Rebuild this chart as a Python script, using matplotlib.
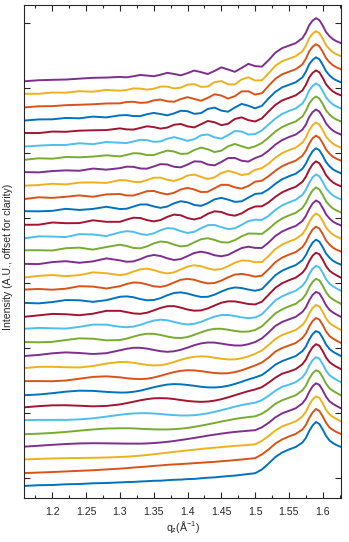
import matplotlib
matplotlib.use("Agg")
import matplotlib.pyplot as plt
import numpy as np

plt.rcParams['font.family'] = ['Liberation Sans', 'DejaVu Sans']
plt.rcParams['mathtext.fontset'] = 'custom'
plt.rcParams['mathtext.rm'] = 'Liberation Sans'

# q_z grid (1/Angstrom)
q = [1.157, 1.18, 1.20, 1.22, 1.24, 1.26, 1.28,
     1.30, 1.31, 1.32, 1.33, 1.34, 1.35, 1.36, 1.37, 1.38, 1.39, 1.40,
     1.41, 1.42, 1.43, 1.44, 1.45, 1.46, 1.47, 1.48, 1.49, 1.50,
     1.51, 1.52, 1.53, 1.54, 1.55, 1.56, 1.57, 1.575, 1.58, 1.585,
     1.59, 1.595, 1.60, 1.605, 1.61, 1.615, 1.62, 1.627]

# intensities (A.U.) of each scan, bottom to top, before offsetting
curve_00 = [0, 0.8, 1.0, 1.7, 2.0, 2.7, 3.0, 3.6, 3.9, 4.1, 4.5, 4.8, 5.2, 5.3, 5.8, 6.2, 6.4, 6.9, 7.1, 7.7, 8.3, 8.6, 9.3, 9.9, 10.4, 11.2, 12.0, 12.8,
            16.5, 22.5, 29, 33.5, 36.5, 39, 43.5, 48, 55, 60.5, 64, 62, 56.5, 50, 45.5, 43, 41, 39]
curve_01 = [-0.2, 0.4, 0.9, 1.5, 2.1, 2.7, 3.5, 4.3, 4.8, 5.4, 5.9, 6.4, 7.0, 7.5, 8.1, 8.5, 8.9, 9.3, 9.8, 10.2, 10.7, 11.1, 11.7, 12.2, 12.8, 13.4, 14.1, 14.8,
            18.5, 23.5, 29.5, 33.5, 36.5, 39, 43.5, 48, 55, 60.5, 64, 62, 56.5, 50, 45.5, 43, 41, 39]
curve_02 = [0.4, 1.0, 1.4, 1.7, 1.9, 2.1, 2.4, 2.9, 3.2, 3.7, 4.2, 4.9, 5.6, 6.4, 7.2, 8.0, 8.7, 9.5, 10.2, 10.9, 11.6, 12.2, 12.8, 13.4, 14.0, 14.4, 15.0, 15.5,
            19, 24, 29.5, 33.5, 36, 38.5, 43.5, 48, 55, 60.5, 63.5, 62, 56.5, 50, 45.5, 43, 41, 38.5]
curve_03 = [0.1, 1.1, 2.0, 2.8, 3.4, 3.6, 3.5, 3.3, 3.2, 3.2, 3.2, 3.4, 3.8, 4.3, 5.0, 5.8, 6.8, 7.8, 8.9, 10.0, 11.2, 12.2, 13.2, 14.1, 14.9, 15.5, 16.1, 16.6,
            19.5, 24, 29.5, 33.5, 36, 38.5, 43.5, 48, 55, 60.5, 63.5, 62, 56.5, 50, 45.5, 43, 41, 38.5]
curve_04 = [-0.5, 0.1, 0.8, 1.8, 3.1, 4.3, 5.2, 5.5, 5.5, 5.4, 5.0, 4.7, 4.4, 4.3, 4.3, 4.6, 5.1, 5.8, 6.9, 8.1, 9.4, 10.8, 12.2, 13.5, 14.8, 15.8, 16.7, 17.4,
            20, 24.5, 30, 33.5, 36, 38.5, 43.5, 48, 55, 60.5, 63.5, 62, 56.5, 50, 45.5, 43, 41, 38.5]
curve_05 = [0.5, 0.8, 0.8, 0.8, 1.3, 2.4, 4.1, 5.9, 6.7, 7.3, 7.5, 7.5, 7.2, 6.7, 6.1, 5.6, 5.2, 5.2, 5.5, 6.3, 7.4, 8.8, 10.5, 12.2, 14.0, 15.6, 16.9, 18.0,
            20.5, 25, 30, 34, 36, 38.5, 43.5, 48, 55, 60.5, 63.5, 62, 56.5, 50, 45.5, 43, 41, 38.5]
curve_06 = [0.2, 1.5, 2.3, 2.4, 1.9, 1.3, 1.7, 3.2, 4.5, 5.9, 7.3, 8.5, 9.3, 9.5, 9.3, 8.6, 7.6, 6.7, 6.1, 5.8, 6.1, 7.0, 8.4, 10.3, 12.4, 14.5, 16.5, 18.2,
            20.5, 25, 30, 34, 36, 38.5, 43.5, 48, 55, 60.5, 63.5, 62, 56.5, 50, 45.5, 43, 41, 38.5]
curve_07 = [-0.7, 0.1, 1.4, 2.9, 3.9, 3.7, 2.7, 2.0, 2.1, 2.8, 3.9, 5.6, 7.3, 8.8, 10.0, 10.5, 10.3, 9.6, 8.8, 7.8, 7.2, 7.1, 7.6, 8.8, 10.6, 12.8, 15.1, 17.2,
            19.5, 24.5, 30, 33.5, 36, 38.5, 43.5, 48, 55, 60.5, 63.5, 62, 56.5, 50, 45.5, 43, 41, 38.5]
curve_08 = [0.4, 0.4, 0.3, 1.0, 2.8, 4.6, 5.2, 4.2, 3.3, 2.7, 2.4, 2.8, 4.0, 5.7, 7.7, 9.4, 10.7, 11.3, 11.1, 10.4, 9.4, 8.5, 8.1, 8.3, 9.4, 11.2, 13.6, 16.1,
            19, 24, 30, 33.5, 36, 38.5, 43.5, 48, 55, 60.5, 63.5, 62, 56.5, 50, 45.5, 43, 41, 38.5]
curve_09 = [0.3, 1.6, 1.7, 1.2, 1.0, 2.4, 4.9, 6.5, 6.4, 5.7, 4.6, 3.5, 3.0, 3.3, 4.5, 6.5, 8.6, 10.5, 11.7, 12.1, 11.8, 10.7, 9.7, 9.0, 9.1, 10.2, 12.1, 14.7,
            18, 23.5, 29.5, 33.5, 36, 38.5, 43.5, 48, 55, 60.5, 63.5, 62, 56.5, 50, 45.5, 43, 41, 38.5]
curve_10 = [-0.7, 0.5, 2.1, 3.0, 2.4, 1.4, 2.2, 5.1, 6.6, 7.6, 7.6, 6.8, 5.5, 4.2, 3.6, 4.1, 5.6, 7.8, 10.2, 12.0, 12.9, 12.8, 11.8, 10.7, 9.9, 9.9, 11.2, 13.4,
            17, 23, 29.5, 33.5, 36, 38.5, 43.5, 48, 55, 60.5, 63.5, 62, 56.5, 50, 45.5, 43, 41, 38.5]
curve_11 = [0.4, 0.0, 0.5, 2.3, 4.0, 3.6, 2.0, 2.3, 3.7, 5.7, 7.5, 8.6, 8.5, 7.4, 5.8, 4.6, 4.3, 5.3, 7.5, 10.0, 12.3, 13.5, 13.6, 12.6, 11.4, 10.6, 10.8, 12.3,
            16, 22.5, 29, 33, 36, 38.5, 43.5, 48, 55, 60.5, 63.5, 62, 56.5, 50, 45.5, 43, 41, 38.5]
curve_12 = [0.4, 1.4, 1.0, 0.7, 2.4, 4.7, 4.6, 2.5, 2.0, 2.7, 4.4, 6.7, 8.7, 9.6, 9.0, 7.4, 5.7, 4.8, 5.5, 7.4, 10.2, 12.7, 14.2, 14.3, 13.3, 11.9, 11.2, 11.8,
            15, 22, 29, 33, 36, 38.5, 43.5, 48, 55, 60.5, 63.5, 62, 56.5, 50, 45.5, 43, 41, 38.5]
curve_13 = [-0.7, 0.9, 2.3, 2.0, 1.0, 2.5, 5.4, 5.4, 4.1, 2.8, 2.4, 3.5, 5.8, 8.3, 10.0, 10.1, 8.6, 6.7, 5.5, 5.8, 7.8, 10.7, 13.5, 14.9, 14.8, 13.6, 12.2, 11.8,
            14.5, 21.5, 28.5, 33, 36, 38.5, 43.5, 48, 55, 60.5, 63.5, 62, 56.5, 50, 45.5, 43, 41, 38.5]
curve_14 = [0.3, -0.2, 1.1, 3.1, 2.9, 1.3, 3.0, 6.4, 6.8, 5.9, 4.1, 2.9, 3.1, 5.0, 7.9, 10.2, 10.8, 9.6, 7.7, 6.2, 6.4, 8.5, 11.6, 14.3, 15.7, 15.1, 13.6, 12.4,
            14, 21, 28, 32.5, 35.5, 38, 43, 48, 55, 60.5, 63.5, 61.5, 56, 49.5, 45.5, 42.5, 40.5, 38.5]
curve_15 = [0.5, 1.1, 0.4, 1.4, 3.9, 3.5, 1.6, 3.9, 6.1, 7.6, 7.3, 5.7, 3.8, 3.2, 4.7, 7.6, 10.3, 11.3, 10.3, 8.2, 6.7, 7.1, 9.5, 12.8, 15.5, 16.2, 15.1, 13.4,
            14.5, 21, 28, 32.5, 35.5, 38, 43, 48, 55, 60.5, 63.5, 61.5, 56, 49.5, 45.5, 42.5, 40.5, 38.5]
curve_16 = [-0.7, 1.2, 2.0, 0.9, 1.9, 4.7, 3.8, 1.9, 3.0, 5.5, 7.7, 8.4, 7.0, 4.8, 3.6, 4.7, 7.6, 10.5, 11.8, 10.8, 8.6, 7.2, 8.0, 10.8, 14.3, 16.5, 16.4, 14.8,
            15, 21, 28, 32.5, 35.5, 38, 43, 48, 55, 60.5, 63.5, 61.5, 56, 49.5, 45.5, 42.5, 40.5, 38.5]
curve_17 = [0.1, -0.1, 1.9, 2.8, 1.2, 2.6, 5.6, 3.6, 2.2, 2.6, 4.8, 7.6, 9.0, 8.0, 5.7, 4.0, 4.9, 7.9, 11.0, 12.3, 11.0, 8.7, 7.7, 9.1, 12.6, 15.9, 17.3, 16.1,
            16, 21.5, 28, 32.5, 35.5, 38, 43, 48, 55, 60.5, 63.5, 61.5, 56, 49.5, 45.5, 42.5, 40.5, 38.5]
curve_18 = [0.6, 0.7, 0.4, 2.7, 3.3, 1.3, 3.9, 6.2, 4.9, 3.0, 2.6, 4.5, 7.5, 9.4, 8.7, 6.3, 4.5, 5.3, 8.6, 11.7, 12.7, 11.0, 8.7, 8.4, 10.8, 14.6, 17.4, 17.3,
            17, 22, 28, 32.5, 35.5, 38, 43, 48, 55, 60.5, 63.5, 61.5, 56, 49.5, 45.5, 42.5, 40.5, 38.5]
curve_19 = [-0.6, 1.5, 1.3, 0.8, 3.7, 3.4, 1.8, 5.5, 6.7, 6.0, 3.9, 2.9, 4.5, 7.6, 9.8, 9.2, 6.7, 4.9, 6.1, 9.6, 12.7, 12.9, 10.7, 8.8, 9.5, 13.0, 16.8, 18.1,
            18, 22, 28, 32.5, 35.5, 38, 43, 48, 55, 60.5, 63.5, 61.5, 56, 49.5, 45.5, 42.5, 40.5, 38.5]
curve_20 = [0.0, 0.1, 2.3, 1.6, 1.7, 4.5, 3.0, 3.0, 5.2, 7.1, 6.8, 4.7, 3.4, 4.7, 7.9, 10.2, 9.5, 6.7, 5.3, 7.1, 11.0, 13.5, 12.8, 10.2, 9.1, 11.4, 15.6, 18.3,
            18.5, 22.5, 28, 32.5, 35.5, 38, 43, 48, 55, 60.5, 63.5, 61.5, 56, 49.5, 45.5, 42.5, 40.5, 38.5]
curve_21 = [0.6, 0.4, 0.9, 2.9, 1.8, 2.8, 5.0, 2.7, 3.0, 5.2, 7.2, 7.3, 5.3, 3.9, 5.2, 8.4, 10.5, 9.4, 6.8, 5.9, 8.6, 12.4, 13.9, 12.1, 9.9, 10.4, 14.1, 17.8,
            18.5, 22.5, 28, 32.5, 35.5, 38, 43, 48, 55, 60.5, 63.5, 61.5, 56, 49.5, 45.5, 42.5, 40.5, 38.5]
curve_22 = [-0.5, 1.4, 0.8, 1.9, 3.3, 1.9, 4.3, 4.7, 3.2, 3.2, 5.2, 7.5, 7.7, 5.7, 4.3, 5.9, 9.2, 10.8, 9.2, 6.6, 6.9, 10.4, 13.9, 13.8, 11.3, 10.1, 12.7, 17.0,
            18, 22.5, 28, 32.5, 35.5, 38, 43, 48, 55, 60.5, 63, 61, 55.5, 49, 45, 42, 40, 38]
curve_23 = [-0.1, 0.6, 1.9, 1.2, 3.0, 3.2, 2.7, 5.6, 5.2, 3.8, 3.5, 5.6, 7.9, 8.0, 5.8, 4.7, 6.8, 10.1, 11.1, 8.7, 6.6, 8.3, 12.6, 14.7, 13.0, 10.6, 11.6, 15.8,
            17.5, 22, 28, 32.5, 35.5, 38, 43, 48, 55.5, 60.5, 63, 61, 55.5, 49, 45, 42, 40, 38]
curve_24 = [0.5, 0.2, 1.5, 2.2, 1.8, 4.0, 2.9, 4.4, 5.9, 5.7, 4.1, 3.9, 6.1, 8.4, 8.1, 5.8, 5.2, 8.0, 11.2, 10.9, 8.0, 7.2, 10.6, 14.5, 14.6, 11.8, 11.0, 14.5,
            17, 22, 28, 32.5, 35.5, 38, 43, 48, 55.5, 60.5, 63, 61, 55.5, 49, 45, 42, 40, 38]
curve_25 = [-0.4, 1.2, 0.8, 2.5, 2.2, 2.9, 4.2, 3.1, 4.6, 6.3, 6.0, 4.4, 4.4, 6.8, 8.9, 8.0, 5.6, 5.9, 9.5, 11.9, 10.2, 7.5, 8.8, 13.2, 15.5, 13.3, 11.2, 13.2,
            16.5, 22, 28, 32.5, 35.5, 38, 43, 48.5, 56, 60.5, 63, 61, 55.5, 49, 45, 42, 40, 38]
curve_26 = [-0.2, 0.8, 1.5, 1.5, 3.2, 2.3, 4.4, 3.7, 3.4, 5.0, 6.6, 6.3, 4.6, 5.0, 7.7, 9.3, 7.6, 5.6, 7.3, 11.1, 12.0, 9.1, 7.8, 11.3, 15.4, 14.9, 11.9, 12.4,
            16, 22, 28, 32.5, 35.5, 38, 43, 48.5, 56, 60.5, 63, 61, 55.5, 49, 45, 42, 40, 38]
curve_27 = [0.4, 0.3, 1.8, 1.6, 2.7, 3.1, 3.3, 5.0, 4.0, 3.8, 5.4, 7.1, 6.3, 4.8, 5.8, 8.6, 9.4, 7.0, 6.0, 9.2, 12.4, 11.1, 8.2, 9.6, 14.4, 16.0, 13.2, 11.9,
            15, 22, 28.5, 33, 35.5, 38, 43, 48.5, 56, 60.5, 63, 61, 55.5, 49, 45, 42, 40, 38]
curve_28 = [-0.3, 0.9, 1.0, 2.4, 2.0, 3.7, 2.9, 5.0, 5.2, 4.3, 4.2, 6.1, 7.4, 6.3, 5.0, 6.9, 9.6, 9.1, 6.5, 7.2, 11.4, 12.7, 9.7, 8.6, 12.8, 16.4, 14.6, 12.0,
            14.5, 22, 28.5, 33, 35.5, 38, 43, 48.5, 56, 60.5, 63, 61, 55.5, 49, 45, 42, 40, 38]
curve_29 = [-0.2, 1.0, 1.1, 2.1, 2.5, 3.0, 3.8, 3.9, 5.3, 5.5, 4.4, 4.8, 6.9, 7.7, 6.0, 5.5, 8.2, 10.1, 8.3, 6.5, 9.4, 13.0, 11.7, 8.7, 11.1, 15.9, 16.0, 12.7,
            14, 21.5, 28.5, 33, 35.5, 38, 43, 48.5, 56, 60.5, 63, 61, 55.5, 49, 45, 42, 40, 38]
curve_30 = [0.4, 0.4, 1.7, 1.5, 3.0, 2.5, 4.3, 3.5, 4.3, 5.8, 5.6, 4.6, 5.5, 7.6, 7.6, 5.8, 6.5, 9.6, 10.1, 7.3, 7.7, 12.0, 13.2, 9.9, 9.8, 14.8, 16.9, 13.7,
            14, 21, 28.5, 33, 35.5, 38, 43, 48.5, 56, 60.5, 63, 61, 55.5, 49, 45, 42, 40, 38]
curve_31 = [-0.2, 0.9, 1.3, 1.6, 2.5, 3.3, 3.6, 4.2, 3.8, 4.9, 6.2, 5.6, 4.9, 6.4, 8.3, 7.2, 5.8, 8.0, 10.6, 9.0, 7.1, 10.2, 13.8, 11.6, 9.3, 13.2, 17.3, 15.0,
            14.5, 21, 28.5, 33, 35.5, 38, 43, 48.5, 56, 60.5, 63, 61, 55.5, 49, 45, 42, 40, 38]

curves = [curve_00, curve_01, curve_02, curve_03, curve_04, curve_05, curve_06, curve_07,
          curve_08, curve_09, curve_10, curve_11, curve_12, curve_13, curve_14, curve_15,
          curve_16, curve_17, curve_18, curve_19, curve_20, curve_21, curve_22, curve_23,
          curve_24, curve_25, curve_26, curve_27, curve_28, curve_29, curve_30, curve_31]

x_ticks = [1.2, 1.25, 1.3, 1.35, 1.4, 1.45, 1.5, 1.55, 1.6]
x_tick_labels = ['1.2', '1.25', '1.3', '1.35', '1.4', '1.45', '1.5', '1.55', '1.6']
x_minor = [1.175, 1.225, 1.275, 1.325, 1.375, 1.425, 1.475, 1.525, 1.575, 1.625]
y_ticks = [8, 73, 138, 203, 268, 333, 398, 463]

# style / layout
OFFSET = 13.06
colors = ['#0072BD', '#D95319', '#EDB120', '#7E2F8E', '#77AC30', '#4DBEEE', '#A2142F']
W, H = 349, 542
TXT = '#262626'
FS = 7.6

fig = plt.figure(figsize=(W / 100, H / 100), dpi=100)
L, R, T, B = 23.5, 341, 5, 498
ax = fig.add_axes([L / W, 1 - B / H, (R - L) / W, (B - T) / H])

qa = np.array(q)
for i, c in enumerate(curves):
    ax.plot(qa, np.array(c) + i * OFFSET, color=colors[i % 7], lw=1.4,
            solid_joinstyle='round', solid_capstyle='round')

ax.set_xlim(1.1574, 1.627)
ax.set_ylim(-12, 481)
ax.set_xticks(x_ticks)
ax.set_xticklabels(x_tick_labels)
ax.set_xticks(x_minor, minor=True)
ax.set_yticks(y_ticks)
ax.set_yticklabels([])
ax.tick_params(which='both', direction='in', top=True, right=True, color=TXT,
               labelcolor=TXT, labelsize=FS, width=0.8)
ax.tick_params(which='major', length=4.0, pad=6.5)
ax.tick_params(which='minor', length=2.2)
for s in ax.spines.values():
    s.set_color(TXT)
    s.set_linewidth(0.8)

fig.text(183 / W, 1 - 527 / H, r'q$_\mathregular{z}$(Å$^\mathregular{-1}$)',
         ha='center', va='center', fontsize=FS, color=TXT)
fig.text(8.5 / W, 1 - 257 / H, 'Intensity (A.U., offset for clarity)',
         ha='center', va='center', rotation=90, fontsize=FS, color=TXT)

fig.savefig('out.png', dpi=100)
